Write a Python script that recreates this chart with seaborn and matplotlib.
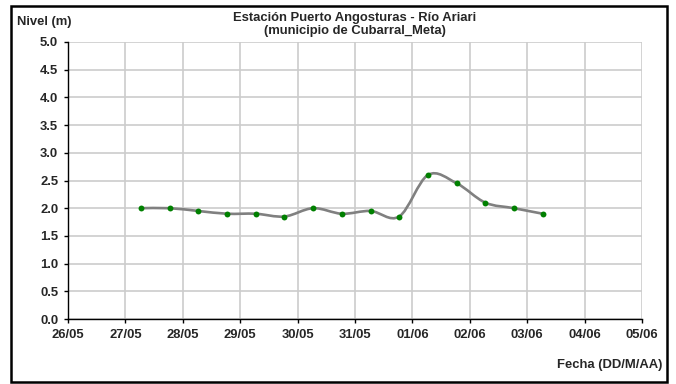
import numpy as np
import pandas as pd
import matplotlib
matplotlib.use("Agg")
import matplotlib.pyplot as plt
import matplotlib.dates as mdates
from matplotlib.path import Path
from matplotlib.patches import PathPatch, Rectangle
import seaborn as sns

# -----------------------------
# Data
# -----------------------------
fechas = [
    "2013-05-27 06:30", "2013-05-27 18:30",
    "2013-05-28 06:30", "2013-05-28 18:30",
    "2013-05-29 06:30", "2013-05-29 18:30",
    "2013-05-30 06:30", "2013-05-30 18:30",
    "2013-05-31 06:30", "2013-05-31 18:30",
    "2013-06-01 06:30", "2013-06-01 18:30",
    "2013-06-02 06:30", "2013-06-02 18:30",
    "2013-06-03 06:30",
]
niveles = [2.0, 2.0, 1.95, 1.9, 1.9, 1.85, 2.0, 1.9, 1.95, 1.85,
           2.6, 2.45, 2.1, 2.0, 1.9]

dias = pd.date_range("2013-05-26", "2013-06-05", freq="D")
y_ticks = np.arange(0, 5.01, 0.5)

titulo = "Estación Puerto Angosturas - Río Ariari\n(municipio de Cubarral_Meta)"
ylab = "Nivel (m)"
xlab = "Fecha (DD/M/AA)"

df = pd.DataFrame({"Fecha": pd.to_datetime(fechas), "Nivel": niveles})

# -----------------------------
# Style
# -----------------------------
sns.set_style("white")
plt.rcParams["font.family"] = ["Liberation Sans", "DejaVu Sans"]
plt.rcParams["font.weight"] = "bold"
FS = 9.4

W, H = 676, 384
fig = plt.figure(figsize=(W / 100, H / 100), dpi=100)
ax = fig.add_axes([68 / W, 1 - 319 / H, (642 - 68) / W, (319 - 42) / H])

# smoothed line (Excel-like bezier through the points)
xs = mdates.date2num(df["Fecha"])
ys = df["Nivel"].to_numpy()
P = np.column_stack([xs, ys])
Pe = np.vstack([P[0], P, P[-1]])
verts = [P[0]]
codes = [Path.MOVETO]
for i in range(len(P) - 1):
    p0, p1, p2, p3 = Pe[i], Pe[i + 1], Pe[i + 2], Pe[i + 3]
    c1 = p1 + (p2 - p0) / 6
    c2 = p2 - (p3 - p1) / 6
    verts += [c1, c2, p2]
    codes += [Path.CURVE4] * 3
ax.add_patch(PathPatch(Path(verts, codes), fill=False, ec="#808080", lw=1.9,
                       zorder=3, capstyle="round", joinstyle="round"))

sns.scatterplot(data=df, x="Fecha", y="Nivel", ax=ax, color="#008000",
                s=18, edgecolor="#008000", linewidth=0, zorder=4)

ax.set_xlim(dias[0], dias[-1])
ax.set_ylim(0, 5)
ax.set_xticks(dias)
ax.xaxis.set_major_formatter(mdates.DateFormatter("%d/%m"))
ax.set_yticks(y_ticks)
ax.set_yticklabels([f"{v:.1f}" for v in y_ticks])
ax.set_xlabel("")
ax.set_ylabel("")

ax.grid(True, color="#cccccc", lw=1.2)
ax.set_axisbelow(True)
for s in ["top", "right"]:
    ax.spines[s].set_visible(False)
for s in ["left", "bottom"]:
    ax.spines[s].set_color("black")
    ax.spines[s].set_linewidth(1.0)
ax.tick_params(direction="out", length=3, width=1, color="black",
               labelsize=FS, pad=4, left=True, bottom=True)
for lab in ax.get_xticklabels() + ax.get_yticklabels():
    lab.set_fontweight("bold")

fig.text(355 / W, 1 - 24.5 / H, titulo, ha="center", va="center",
         fontsize=FS, fontweight="bold", linespacing=1.2)
fig.text(17 / W, 1 - 22 / H, ylab, ha="left", va="center",
         fontsize=FS, fontweight="bold")
fig.text(662 / W, 1 - 365 / H, xlab, ha="right", va="center",
         fontsize=FS, fontweight="bold")

fig.add_artist(Rectangle((11 / W, 1 - 382 / H), (667 - 11) / W, (382 - 6) / H,
                         transform=fig.transFigure, fill=False,
                         ec="black", lw=1.8))

fig.savefig("out.png", dpi=100)
